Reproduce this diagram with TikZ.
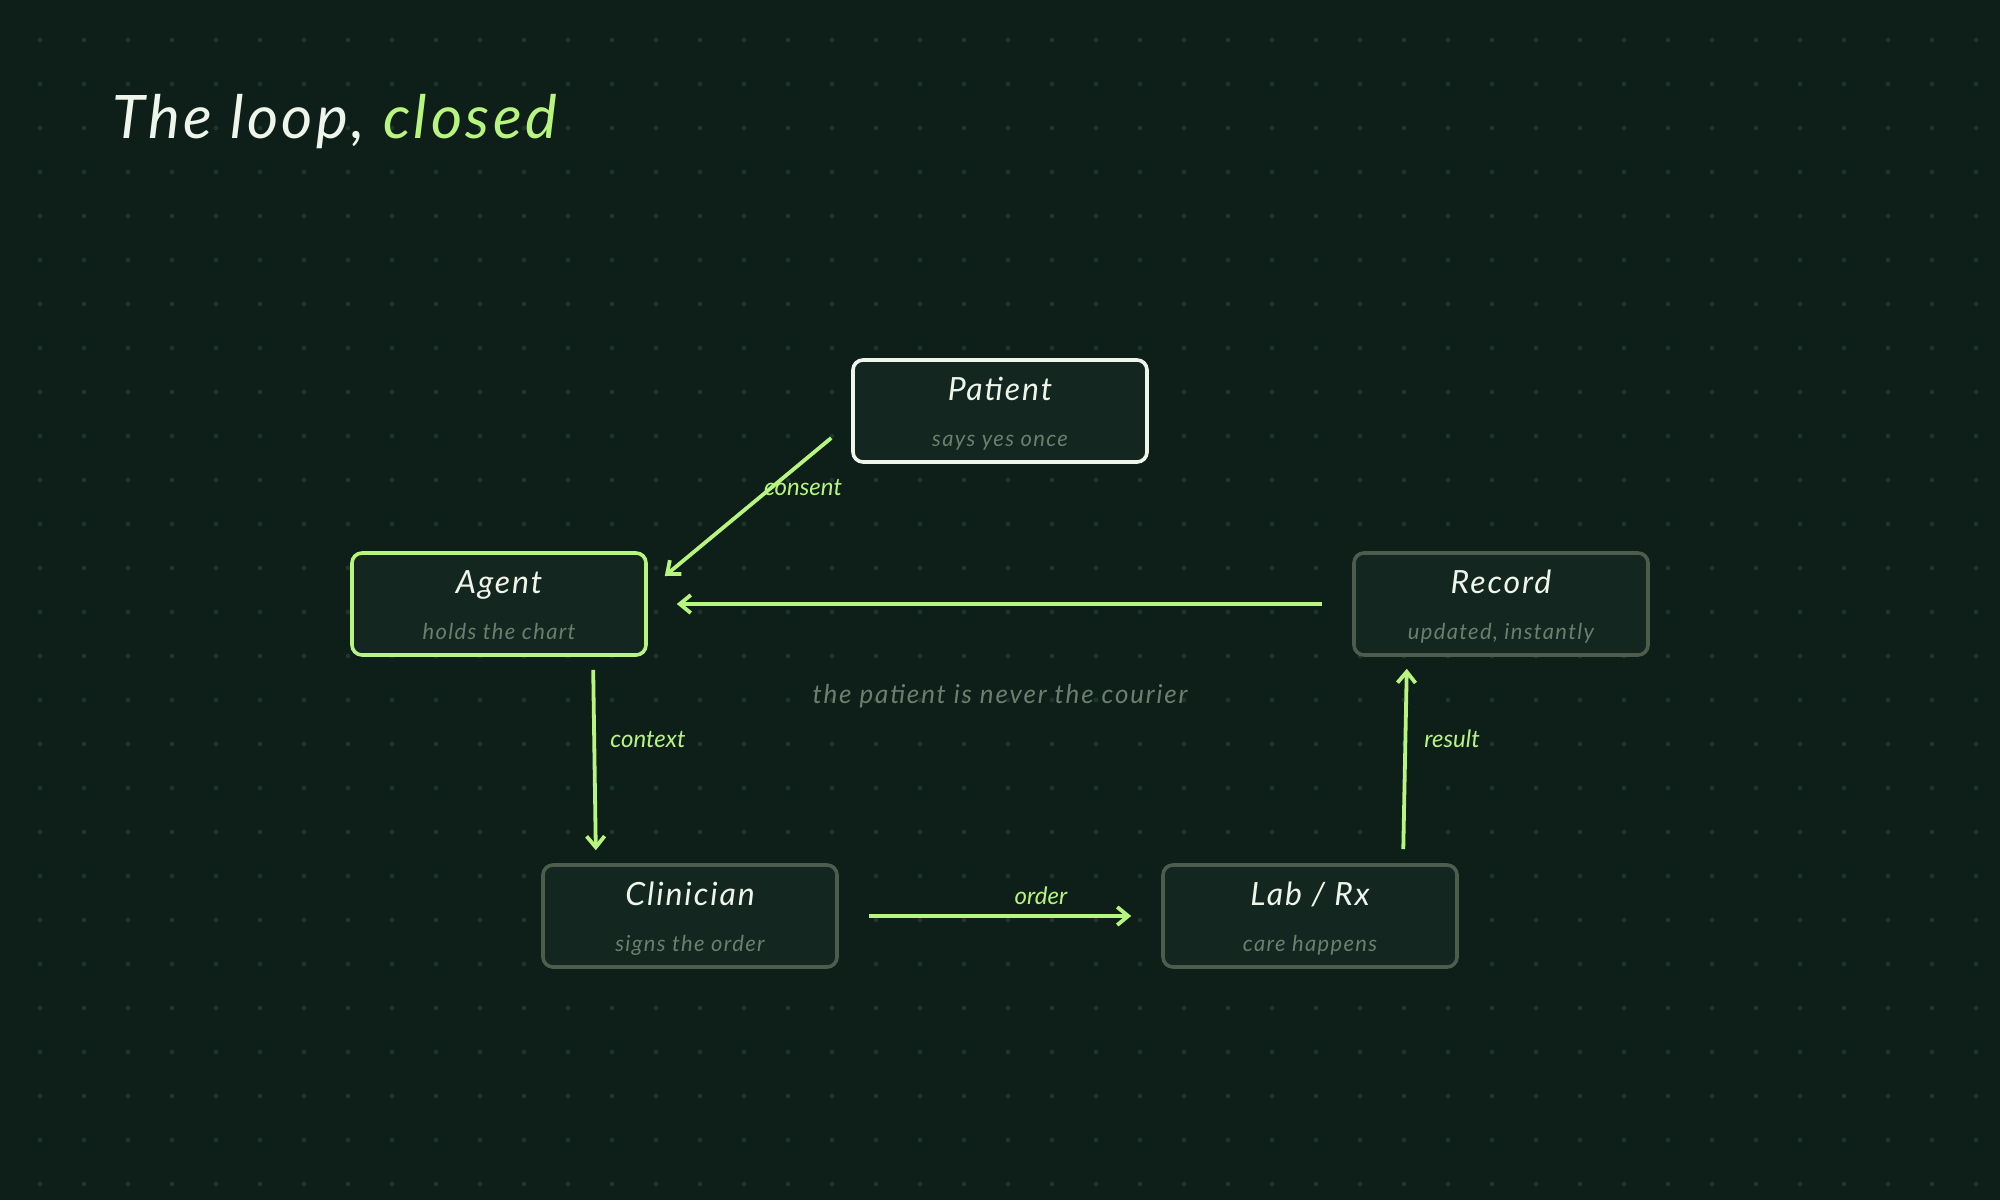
\documentclass[tikz,border=0pt]{standalone}
\usepackage{fontspec}
\setmainfont{Lato}
\usetikzlibrary{arrows.meta}
\definecolor{bgc}{HTML}{0E1F1A}
\definecolor{dotc}{HTML}{1E352B}
\definecolor{boxfill}{HTML}{13261F}
\definecolor{graybord}{HTML}{4E5C4E}
\definecolor{subc}{HTML}{6C7E6E}
\definecolor{greenc}{HTML}{B8F57E}
\definecolor{whitec}{HTML}{EEF5EA}
\tikzset{
  card/.style={draw=graybord, fill=boxfill, line width=1.8pt, rounded corners=5pt,
    minimum width=147pt, minimum height=51pt, inner sep=0pt},
  cardtitle/.style={anchor=base, text=whitec, font=\fontsize{16}{18}\selectfont\itshape\addfontfeatures{LetterSpace=6}, inner sep=0pt},
  cardsub/.style={anchor=base, text=subc, font=\fontsize{11}{13}\selectfont\itshape\addfontfeatures{LetterSpace=6}, inner sep=0pt},
  arr/.style={draw=greenc, line width=1.9pt, -{Straight Barb[length=5.5pt,width=9pt]}},
  elabel/.style={anchor=base, text=greenc, font=\fontsize{12}{14}\selectfont\itshape, inner sep=0pt},
  caption/.style={anchor=base, text=subc, font=\fontsize{13}{15}\selectfont\itshape\addfontfeatures{LetterSpace=7}, inner sep=0pt}
}
\begin{document}
\begin{tikzpicture}[x=0.5pt,y=-0.5pt]
\fill[bgc] (0,0) rectangle (2000,1200);
\useasboundingbox (0,0) rectangle (2000,1200);
\foreach \i in {0,...,44} {
  \foreach \j in {0,...,26} {
    \fill[dotc] (40+44*\i,40+44*\j) circle (1.2pt);
  }
}
% title
\node[anchor=base west, inner sep=0pt, font=\fontsize{30}{34}\selectfont\itshape\addfontfeatures{LetterSpace=6}, text=whitec] (title) at (112,138) {The loop, \textcolor{greenc}{closed}};

% cards
\node[card, draw=whitec] (patient) at (1000,411) {};
\node[card, draw=greenc] (agent) at (499,604) {};
\node[card] (record) at (1501,604) {};
\node[card] (clinician) at (690,916) {};
\node[card] (lab) at (1310,916) {};

\node[cardtitle] (patientT) at ([yshift=5.5pt]patient.center) {Patient};
\node[cardsub] (patientS) at ([yshift=-17.5pt]patient.center) {says yes once};
\node[cardtitle] (agentT) at ([yshift=5.5pt]agent.center) {Agent};
\node[cardsub] (agentS) at ([yshift=-17.5pt]agent.center) {holds the chart};
\node[cardtitle] (recordT) at ([yshift=5.5pt]record.center) {Record};
\node[cardsub] (recordS) at ([yshift=-17.5pt]record.center) {updated, instantly};
\node[cardtitle] (clinicianT) at ([yshift=5.5pt]clinician.center) {Clinician};
\node[cardsub] (clinicianS) at ([yshift=-17.5pt]clinician.center) {signs the order};
\node[cardtitle] (labT) at ([yshift=5.5pt]lab.center) {Lab / Rx};
\node[cardsub] (labS) at ([yshift=-17.5pt]lab.center) {care happens};

% connectors
\draw[arr] ([xshift=-10pt,yshift=-13.5pt]patient.west) -- ([xshift=8.5pt,yshift=14pt]agent.east);
\draw[arr, shorten <=15pt, shorten >=14.5pt] (record.west) -- (agent.east);
\draw[arr, shorten <=6.5pt, shorten >=6.5pt] ([xshift=47pt]agent.south) -- ([xshift=-47pt]clinician.north);
\draw[arr, shorten <=15pt, shorten >=15pt] (clinician.east) -- (lab.west);
\draw[arr, shorten <=7pt, shorten >=6pt] ([xshift=46.5pt]lab.north) -- ([xshift=-47pt]record.south);

% labels
\node[elabel] (consentL) at (803,495) {consent};
\node[elabel] (contextL) at (648,747) {context};
\node[elabel] (orderL) at (1041,904) {order};
\node[elabel] (resultL) at (1452,747) {result};
\node[caption] (cap) at (1000,703) {the patient is never the courier};
\end{tikzpicture}
\end{document}
